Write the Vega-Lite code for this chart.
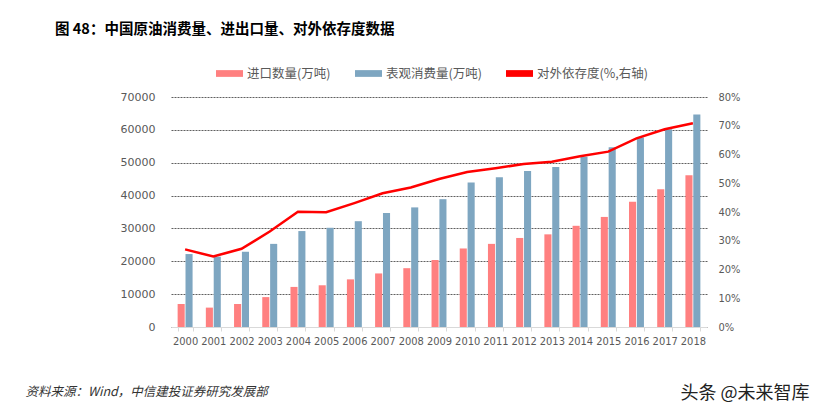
{
  "$schema": "https://vega.github.io/schema/vega-lite/v6.json",
  "width": 536,
  "height": 230,
  "autosize": {"type": "none"},
  "padding": {"left": 171, "top": 97, "right": 117, "bottom": 90},
  "background": "white",
  "title": {
    "text": "图 48：中国原油消费量、进出口量、对外依存度数据",
    "anchor": "start",
    "frame": "group",
    "dx": -116,
    "offset": 23,
    "font": "Noto Sans CJK SC",
    "fontSize": 14.5,
    "fontWeight": "bold",
    "color": "#000000"
  },
  "datasets": {
    "bars": [
      {"year": "2000", "series": "进口数量(万吨)", "value": 7000},
      {"year": "2000", "series": "表观消费量(万吨)", "value": 22200},
      {"year": "2001", "series": "进口数量(万吨)", "value": 5900},
      {"year": "2001", "series": "表观消费量(万吨)", "value": 21400},
      {"year": "2002", "series": "进口数量(万吨)", "value": 7000},
      {"year": "2002", "series": "表观消费量(万吨)", "value": 22900},
      {"year": "2003", "series": "进口数量(万吨)", "value": 9100},
      {"year": "2003", "series": "表观消费量(万吨)", "value": 25300},
      {"year": "2004", "series": "进口数量(万吨)", "value": 12200},
      {"year": "2004", "series": "表观消费量(万吨)", "value": 29200},
      {"year": "2005", "series": "进口数量(万吨)", "value": 12700},
      {"year": "2005", "series": "表观消费量(万吨)", "value": 30200},
      {"year": "2006", "series": "进口数量(万吨)", "value": 14500},
      {"year": "2006", "series": "表观消费量(万吨)", "value": 32200},
      {"year": "2007", "series": "进口数量(万吨)", "value": 16300},
      {"year": "2007", "series": "表观消费量(万吨)", "value": 34700},
      {"year": "2008", "series": "进口数量(万吨)", "value": 17900},
      {"year": "2008", "series": "表观消费量(万吨)", "value": 36400},
      {"year": "2009", "series": "进口数量(万吨)", "value": 20400},
      {"year": "2009", "series": "表观消费量(万吨)", "value": 38900},
      {"year": "2010", "series": "进口数量(万吨)", "value": 23900},
      {"year": "2010", "series": "表观消费量(万吨)", "value": 44000},
      {"year": "2011", "series": "进口数量(万吨)", "value": 25300},
      {"year": "2011", "series": "表观消费量(万吨)", "value": 45600},
      {"year": "2012", "series": "进口数量(万吨)", "value": 27100},
      {"year": "2012", "series": "表观消费量(万吨)", "value": 47500},
      {"year": "2013", "series": "进口数量(万吨)", "value": 28200},
      {"year": "2013", "series": "表观消费量(万吨)", "value": 48700},
      {"year": "2014", "series": "进口数量(万吨)", "value": 30800},
      {"year": "2014", "series": "表观消费量(万吨)", "value": 51800},
      {"year": "2015", "series": "进口数量(万吨)", "value": 33500},
      {"year": "2015", "series": "表观消费量(万吨)", "value": 54700},
      {"year": "2016", "series": "进口数量(万吨)", "value": 38100},
      {"year": "2016", "series": "表观消费量(万吨)", "value": 57700},
      {"year": "2017", "series": "进口数量(万吨)", "value": 41900},
      {"year": "2017", "series": "表观消费量(万吨)", "value": 60200},
      {"year": "2018", "series": "进口数量(万吨)", "value": 46200},
      {"year": "2018", "series": "表观消费量(万吨)", "value": 64700}
    ],
    "ratio": [
      {"year": "2000", "ratio": 0.270},
      {"year": "2001", "ratio": 0.245},
      {"year": "2002", "ratio": 0.272},
      {"year": "2003", "ratio": 0.332},
      {"year": "2004", "ratio": 0.401},
      {"year": "2005", "ratio": 0.399},
      {"year": "2006", "ratio": 0.431},
      {"year": "2007", "ratio": 0.465},
      {"year": "2008", "ratio": 0.485},
      {"year": "2009", "ratio": 0.515},
      {"year": "2010", "ratio": 0.539},
      {"year": "2011", "ratio": 0.552},
      {"year": "2012", "ratio": 0.567},
      {"year": "2013", "ratio": 0.575},
      {"year": "2014", "ratio": 0.594},
      {"year": "2015", "ratio": 0.610},
      {"year": "2016", "ratio": 0.656},
      {"year": "2017", "ratio": 0.688},
      {"year": "2018", "ratio": 0.709}
    ]
  },
  "layer": [
    {
      "data": {"name": "bars"},
      "mark": {"type": "bar"},
      "encoding": {
        "x": {
          "field": "year",
          "type": "nominal",
          "scale": {"paddingInner": 0.47, "paddingOuter": 0.235},
          "axis": {
            "labelAngle": 0,
            "labelFont": "DejaVu Sans Condensed",
            "labelFontSize": 11,
            "labelColor": "#595959",
            "labelPadding": 4,
            "tickBand": "extent",
            "tickSize": 4,
            "tickColor": "#D9D9D9",
            "domainColor": "#D9D9D9",
            "title": "资料来源：Wind，中信建投证券研究发展部",
            "titleX": -146,
            "titleY": 64,
            "titleAlign": "left",
            "titleBaseline": "middle",
            "titleFont": "Noto Sans CJK SC",
            "titleFontSize": 12.5,
            "titleFontStyle": "italic",
            "titleFontWeight": "normal",
            "titleColor": "#333333"
          }
        },
        "xOffset": {
          "field": "series",
          "type": "nominal",
          "scale": {"domain": ["进口数量(万吨)", "表观消费量(万吨)"], "paddingInner": 0.1}
        },
        "y": {
          "field": "value",
          "type": "quantitative",
          "scale": {"domain": [0, 70000]},
          "axis": {
            "values": [0, 10000, 20000, 30000, 40000, 50000, 60000, 70000],
            "format": "d",
            "title": null,
            "labelFont": "DejaVu Sans",
            "labelFontSize": 11,
            "labelColor": "#595959",
            "labelPadding": 16,
            "ticks": false,
            "domain": false,
            "gridColor": "#606060",
            "gridDash": [2, 1],
            "gridWidth": 1
          }
        },
        "color": {
          "field": "series",
          "type": "nominal",
          "scale": {
            "domain": ["进口数量(万吨)", "表观消费量(万吨)", "对外依存度(%,右轴)"],
            "range": ["#FF8080", "#7EA6C1", "#FF0000"]
          },
          "legend": {
            "orient": "none",
            "direction": "horizontal",
            "legendX": 45,
            "legendY": -37,
            "title": null,
            "symbolType": "M-1,-0.25H1V0.25H-1Z",
            "symbolSize": 729,
            "symbolStrokeWidth": 0,
            "labelFont": "Noto Sans CJK SC",
            "labelFontSize": 12.5,
            "labelColor": "#595959",
            "labelOffset": 4,
            "columnPadding": 24
          }
        }
      }
    },
    {
      "data": {"name": "ratio"},
      "mark": {"type": "line", "strokeWidth": 2.5},
      "encoding": {
        "x": {"field": "year", "type": "nominal"},
        "y": {
          "field": "ratio",
          "type": "quantitative",
          "scale": {"domain": [0, 0.8]},
          "axis": {
            "orient": "right",
            "values": [0, 0.1, 0.2, 0.3, 0.4, 0.5, 0.6, 0.7, 0.8],
            "format": ".0%",
            "grid": false,
            "ticks": false,
            "domain": false,
            "labelFont": "DejaVu Sans Condensed",
            "labelFontSize": 11,
            "labelColor": "#595959",
            "labelPadding": 11,
            "title": "头条 @未来智库",
            "titleAngle": 0,
            "titleX": -27,
            "titleY": 296,
            "titleAlign": "left",
            "titleBaseline": "middle",
            "titleFont": "Noto Sans CJK SC",
            "titleFontSize": 18,
            "titleFontWeight": "normal",
            "titleColor": "#222222"
          }
        },
        "color": {"datum": "对外依存度(%,右轴)"}
      }
    }
  ],
  "resolve": {"scale": {"y": "independent"}},
  "config": {"view": {"stroke": null}}
}
